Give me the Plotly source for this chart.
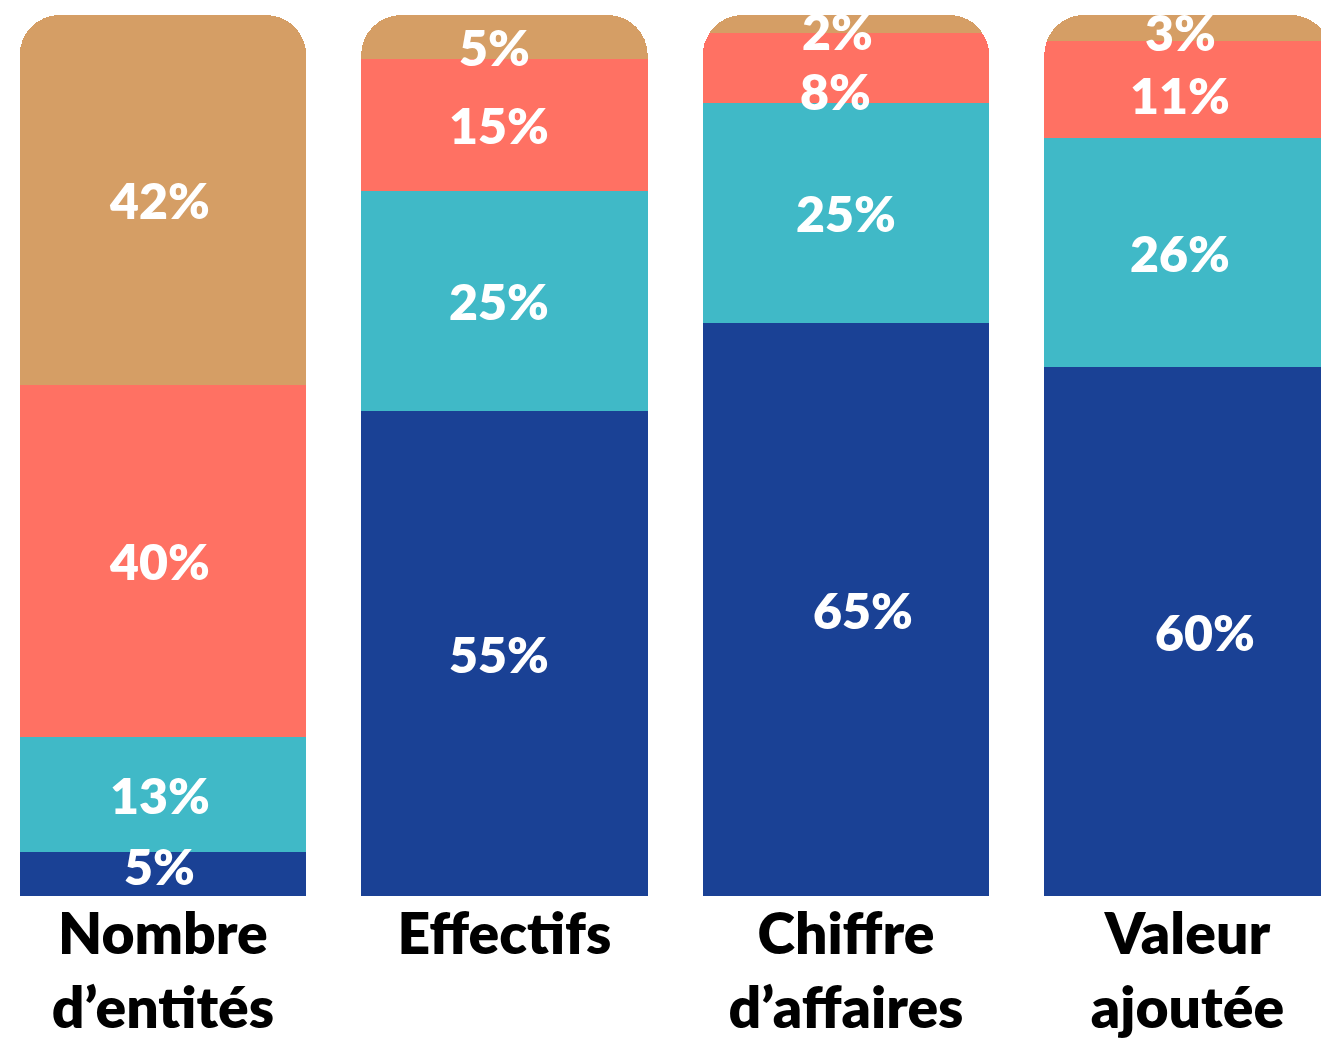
import plotly.graph_objects as go

# Categories shown under each stacked bar
categories = ["Nombre<br>d’entités", "Effectifs", "Chiffre<br>d’affaires", "Valeur<br>ajoutée"]

# Shares per category (%), stacked bottom to top
seg_blue = [5, 55, 65, 60]
seg_teal = [13, 25, 25, 26]
seg_red = [40, 15, 8, 11]
seg_tan = [42, 5, 2, 3]

# (values, colour, label nudges in px as (dx, dy) per bar) — nudges keep thin-segment labels apart
series = [
    (seg_blue, "#1a4195", [(-3, 8), (-5, 0), (17, 0), (18, 0)]),
    (seg_teal, "#40b9c7", [(-3, 0), (-5, 0), (0, 0), (-7, 0)]),
    (seg_red, "#ff7163", [(-3, 0), (-5, 0), (-10, -23), (-7, -5)]),
    (seg_tan, "#d59e65", [(-3, 0), (-10, -10), (-8, -7), (-7, -4)]),
]

FAMILY = "Lato, 'Open Sans', sans-serif"
LABEL_FONT = dict(family=FAMILY, size=50, color="white", weight=800)

fig = go.Figure()
xs = list(range(len(categories)))
base = [0] * len(categories)
annotations = []
for values, color, nudges in series:
    fig.add_trace(go.Bar(
        x=xs,
        y=values,
        marker=dict(color=color, line=dict(width=0)),
        hoverinfo="skip",
    ))
    for i, v in enumerate(values):
        dx, dy = nudges[i]
        annotations.append(dict(
            x=i, y=base[i] + v / 2, xref="x", yref="y",
            text=f"{v}%", showarrow=False, borderpad=0,
            font=LABEL_FONT, xanchor="center", yanchor="middle",
            xshift=dx, yshift=dy,
        ))
        base[i] += v

fig.update_layout(
    barmode="stack",
    bargap=0.161,
    barcornerradius=40,
    width=1321,
    height=1040,
    margin=dict(l=0, r=0, t=15, b=144),
    paper_bgcolor="white",
    plot_bgcolor="white",
    showlegend=False,
    annotations=annotations,
    xaxis=dict(
        range=[-0.477, 3.391],
        tickmode="array",
        tickvals=xs,
        ticktext=categories,
        tickfont=dict(family=FAMILY, size=57, color="black", weight=800),
        showgrid=False,
        zeroline=False,
        showline=False,
        ticks="",
    ),
    yaxis=dict(range=[0, 100], visible=False, showgrid=False, zeroline=False),
)

fig.write_html("out.html")
